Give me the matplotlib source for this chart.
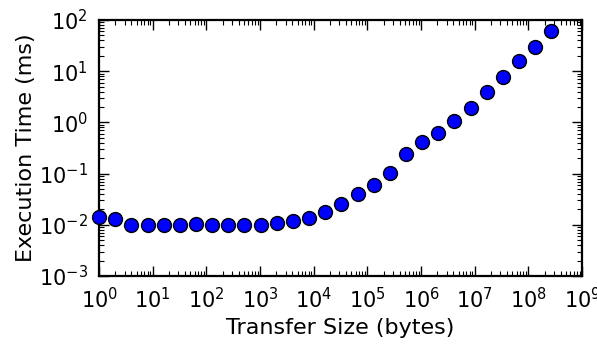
import numpy as np
import matplotlib
matplotlib.use('Agg')
import matplotlib.pyplot as plt

plt.rcParams['axes.unicode_minus'] = False

# transfer sizes are powers of two, 1 B .. 256 MB
exponents = list(range(29))
sizes = [2 ** e for e in exponents]
times_ms = [0.0144, 0.013, 0.0098, 0.0098, 0.0098, 0.0098, 0.0104, 0.0098,
            0.0098, 0.0098, 0.0099, 0.011, 0.0117, 0.0138, 0.018, 0.025,
            0.0394, 0.0607, 0.104, 0.242, 0.414, 0.621, 1.08, 1.91, 3.98,
            7.8, 16.0, 30.1, 60.1]

fig = plt.figure(figsize=(5.97, 3.45), dpi=100)
ax = fig.add_axes([0.166, 0.2, 0.809, 0.742])

ax.plot(sizes, times_ms, 'o', color='blue', markeredgecolor='black',
        markeredgewidth=1.0, markersize=10, clip_on=False, zorder=3)

ax.set_xscale('log')
ax.set_yscale('log')
ax.set_xlim(1, 1e9)
ax.set_ylim(1e-3, 1e2)

ax.set_xlabel('Transfer Size (bytes)', fontsize=16, labelpad=4)
ax.set_ylabel('Execution Time (ms)', fontsize=16, labelpad=2)

for s in ax.spines.values():
    s.set_linewidth(1.6)
ax.tick_params(which='both', direction='in', top=True, right=True, labelsize=15)
ax.tick_params(which='major', length=7, width=1.0, pad=8)
ax.tick_params(which='minor', length=3.5, width=0.8)
ax.xaxis.set_minor_locator(matplotlib.ticker.LogLocator(base=10, subs=np.arange(2, 10), numticks=20))
ax.yaxis.set_minor_locator(matplotlib.ticker.LogLocator(base=10, subs=np.arange(2, 10), numticks=20))
ax.xaxis.set_major_locator(matplotlib.ticker.LogLocator(base=10, numticks=20))

fig.savefig('out.png', dpi=100)
